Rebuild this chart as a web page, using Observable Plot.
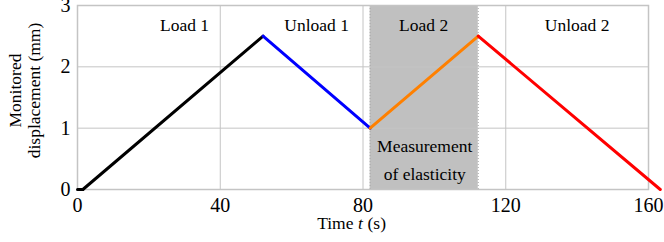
<!DOCTYPE html>
<html>
<head>
<meta charset="utf-8">
<script src="https://cdn.jsdelivr.net/npm/d3@7"></script>
<script src="https://cdn.jsdelivr.net/npm/@observablehq/plot@0.6"></script>
<style>
  html, body { margin: 0; padding: 0; background: #fff; }
  #chart svg { display: block; }
  #chart svg text { font-family: 'Liberation Serif', 'Times New Roman', serif; }
</style>
</head>
<body>
<div id="chart"></div>
<script>
// ---- data ----
const time = [0, 1.5, 52, 82, 112.3, 163.3];
const displacement = [0, 0, 2.5, 1, 2.5, 0];
const segmentPhase = ["Load 1", "Load 1", "Unload 1", "Load 2", "Unload 2"];
const phases = ["Load 1", "Unload 1", "Load 2", "Unload 2"];
const phaseLabelTime = [30, 67, 97, 140];
const phaseLabelValue = [2.68, 2.68, 2.68, 2.68];
const bandStart = [82];
const bandEnd = [112.3];
const bandNote = ["Measurement\nof elasticity"];
const bandNoteTime = [97.3];
const bandNoteValue = [0.53];
const xTicks = [0, 40, 80, 120, 160];
const yTicks = [0, 1, 2, 3];
const xGrid = [40, 80, 120];
const yGrid = [1, 2];
const yTitle = ["Monitored\ndisplacement (mm)"];
const xTitleParts = ["Time", "t", "(s)"];
const xTitleTime = 79.3;

// ---- tables built from the arrays ----
const segments = segmentPhase.map((p, i) => ({
  phase: p, x1: time[i], y1: displacement[i], x2: time[i + 1], y2: displacement[i + 1]
}));
const labels = phases.map((p, i) => ({ text: p, x: phaseLabelTime[i], y: phaseLabelValue[i] }));
const band = bandStart.map((s, i) => ({ x1: s, x2: bandEnd[i] }));
const notes = bandNote.map((t, i) => ({ text: t, x: bandNoteTime[i], y: bandNoteValue[i] }));

const serif = "'Liberation Serif', 'Times New Roman', serif";
const txt = { fontFamily: serif, fill: "#000" };

const chart = Plot.plot({
  width: 664,
  height: 242,
  marginLeft: 77,
  marginRight: 16,
  marginTop: 5,
  marginBottom: 53,
  style: { fontFamily: serif, background: "#fff", overflow: "hidden" },
  x: { domain: [0, 160] },
  y: { domain: [0, 3] },
  color: { domain: phases, range: ["#000000", "#0000ff", "#ff8000", "#ff0000"] },
  marks: [
    Plot.rect(band, { x1: "x1", x2: "x2", y1: 0, y2: 3, fill: "#c0c0c0" }),
    Plot.ruleX(band.flatMap(d => [d.x1, d.x2]), { stroke: "#a8a8a8", strokeDasharray: "1,2", strokeWidth: 1 }),
    Plot.gridX(xGrid, { stroke: "#c4c4c4", strokeOpacity: 1, strokeWidth: 1 }),
    Plot.gridY(yGrid, { stroke: "#c4c4c4", strokeOpacity: 1, strokeWidth: 1 }),
    Plot.frame({ stroke: "#c4c4c4", strokeWidth: 1.5 }),
    Plot.axisX({ ticks: xTicks, tickFormat: d3.format("d"), tickSize: 0, tickPadding: 8, fontSize: 20, label: null, ...txt }),
    Plot.axisY({ ticks: yTicks, tickFormat: d3.format("d"), tickSize: 0, tickPadding: 7, fontSize: 20, label: null, ...txt }),
    Plot.link(segments, {
      x1: "x1", y1: "y1", x2: "x2", y2: "y2",
      stroke: "phase", strokeWidth: 3, strokeLinecap: "round", strokeLinejoin: "round"
    }),
    Plot.text(labels, { x: "x", y: "y", text: "text", fontSize: 17.5, ...txt }),
    Plot.text(notes, { x: "x", y: "y", text: "text", fontSize: 17.5, lineHeight: 1.62, ...txt }),
    Plot.text(yTitle, {
      text: d => d, frameAnchor: "left", textAnchor: "middle", rotate: -90, dx: -53, dy: -7,
      fontSize: 17.5, lineHeight: 1.08, ...txt
    }),
    Plot.text([xTitleParts[0]], { text: d => d, x: xTitleTime, frameAnchor: "bottom", dy: 39, dx: -7, textAnchor: "end", fontSize: 17.5, ...txt }),
    Plot.text([xTitleParts[1]], { text: d => d, x: xTitleTime, frameAnchor: "bottom", dy: 39, fontSize: 17.5, fontStyle: "italic", ...txt }),
    Plot.text([xTitleParts[2]], { text: d => d, x: xTitleTime, frameAnchor: "bottom", dy: 39, dx: 7, textAnchor: "start", fontSize: 17.5, ...txt })
  ]
});
document.getElementById("chart").appendChild(chart);
</script>
</body>
</html>
